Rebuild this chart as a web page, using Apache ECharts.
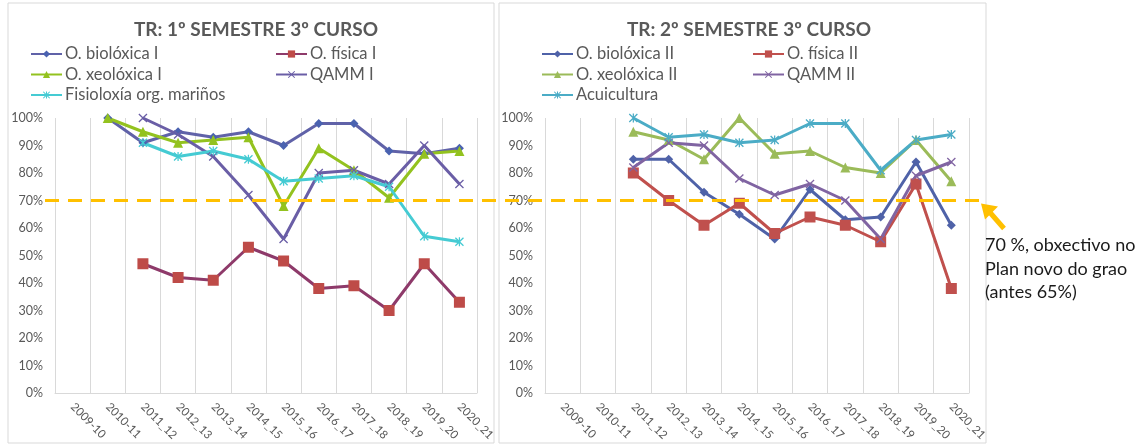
<!DOCTYPE html>
<html>
<head>
<meta charset="utf-8">
<script src="https://cdn.jsdelivr.net/npm/echarts@6/dist/echarts.min.js"></script>
<style>
  html, body { margin: 0; padding: 0; background: #fff; }
  #main { width: 1145px; height: 445px; }
</style>
</head>
<body>
<div id="main"></div>
<script>
// cursos academicos (eixo x, igual nos dous graficos)
var cursos = ['2009-10', '2010-11', '2011_12', '2012_13', '2013_14', '2014_15', '2015_16', '2016_17', '2017_18', '2018_19', '2019_20', '2020_21'];

// 1º semestre (taxa de rendemento, %)
var bioloxica1 = [null, 100, 91, 95, 93, 95, 90, 98, 98, 88, 87, 89];
var fisica1 = [null, null, 47, 42, 41, 53, 48, 38, 39, 30, 47, 33];
var xeoloxica1 = [null, 100, 95, 91, 92, 93, 68, 89, 81, 71, 87, 88];
var qamm1 = [null, null, 100, 94, 86, 72, 56, 80, 81, 76, 90, 76];
var fisioloxia1 = [null, null, 91, 86, 88, 85, 77, 78, 79, 75, 57, 55];

// 2º semestre
var bioloxica2 = [null, null, 85, 85, 73, 65, 56, 74, 63, 64, 84, 61];
var fisica2 = [null, null, 80, 70, 61, 69, 58, 64, 61, 55, 76, 38];
var xeoloxica2 = [null, null, 95, 92, 85, 100, 87, 88, 82, 80, 92, 77];
var qamm2 = [null, null, 82, 91, 90, 78, 72, 76, 70, 56, 79, 84];
var acuicultura = [null, null, 100, 93, 94, 91, 92, 98, 98, 81, 92, 94];

var obxectivo = 70; // obxectivo do plan novo

var titulos = ['TR: 1º SEMESTRE 3º CURSO', 'TR: 2º SEMESTRE 3º CURSO'];
var nota = '70 %, obxectivo no\nPlan novo do grao\n(antes 65%)';

var cinza = '#595959';
var liña = '#D9D9D9';
var laranxa = '#FFC000';
var fonte = 'Lato';

var simboloX = 'path://M0,1L1,0L5,4L9,0L10,1L6,5L10,9L9,10L5,6L1,10L0,9L4,5Z';
var simboloEstrela = 'path://M0,1L1,0L5,4L9,0L10,1L6,5L10,9L9,10L5,6L1,10L0,9L4,5Z M4.3,0L5.7,0L5.7,10L4.3,10Z';

function pct(arr) {
    return arr.map(function (v) { return v == null ? null : v / 100; });
}

function serie(nome, datos, g, cor, corMarca, simbolo, tam) {
    return {
        name: nome, type: 'line', xAxisIndex: g, yAxisIndex: g,
        data: pct(datos),
        symbol: simbolo, symbolSize: tam,
        showAllSymbol: true,
        lineStyle: { color: cor, width: 3 },
        itemStyle: { color: corMarca || cor },
        z: 3
    };
}

function eixoX(g) {
    return {
        type: 'category', gridIndex: g, data: cursos,
        boundaryGap: true,
        axisLine: { lineStyle: { color: liña } },
        axisTick: { show: false },
        splitLine: { show: true, lineStyle: { color: liña } },
        axisLabel: { rotate: -45, color: cinza, fontSize: 11.5, margin: 12, interval: 0, fontFamily: fonte }
    };
}

function eixoY(g) {
    return {
        type: 'value', gridIndex: g, min: 0, max: 1, interval: 0.1,
        axisLine: { show: false }, axisTick: { show: false },
        splitLine: { show: false },
        axisLabel: {
            color: cinza, fontSize: 12.5, margin: 12, fontFamily: fonte,
            formatter: function (v) { return Math.round(v * 100) + '%'; }
        }
    };
}

function lenda(nomes, x, y) {
    return {
        data: nomes, orient: 'vertical', left: x, top: y, padding: 0,
        itemWidth: 31, itemHeight: 9, itemGap: 3.5,
        textStyle: { color: cinza, fontSize: 16.5, fontFamily: fonte, padding: [0, 0, 0, -2] },
        selectedMode: false
    };
}

var myChart = echarts.init(document.getElementById('main'));
myChart.setOption({
    animation: false,
    backgroundColor: '#fff',
    title: [
        { text: titulos[0], left: 251, top: 15, textAlign: 'center',
          textStyle: { color: cinza, fontSize: 19, fontWeight: 'bold', fontFamily: fonte } },
        { text: titulos[1], left: 744, top: 15, textAlign: 'center',
          textStyle: { color: cinza, fontSize: 19, fontWeight: 'bold', fontFamily: fonte } }
    ],
    legend: [
        lenda(['O. biolóxica I', 'O. xeolóxica I', 'Fisioloxía org. mariños'], 30, 45.5),
        lenda(['O. física I', 'QAMM I'], 275, 45.5),
        lenda(['O. biolóxica II', 'O. xeolóxica II', 'Acuicultura'], 541, 45.5),
        lenda(['O. física II', 'QAMM II'], 752, 45.5)
    ],
    grid: [
        { left: 55, right: 668, top: 118, bottom: 52 },
        { left: 545, right: 176, top: 118, bottom: 52 }
    ],
    xAxis: [eixoX(0), eixoX(1)],
    yAxis: [eixoY(0), eixoY(1)],
    series: [
        serie('O. biolóxica I', bioloxica1, 0, '#6062A8', '#4A62B0', 'diamond', 9),
        serie('O. física I', fisica1, 0, '#8E3A6A', '#BE4B48', 'rect', 11),
        serie('O. xeolóxica I', xeoloxica1, 0, '#93C21F', null, 'triangle', 10),
        serie('QAMM I', qamm1, 0, '#6A5EA6', null, simboloX, 9),
        serie('Fisioloxía org. mariños', fisioloxia1, 0, '#45CBD3', null, simboloEstrela, 9),
        serie('O. biolóxica II', bioloxica2, 1, '#4F62A8', null, 'diamond', 9),
        serie('O. física II', fisica2, 1, '#C0504D', null, 'rect', 11),
        serie('O. xeolóxica II', xeoloxica2, 1, '#9BBB59', null, 'triangle', 10),
        serie('QAMM II', qamm2, 1, '#8064A2', null, simboloX, 9),
        serie('Acuicultura', acuicultura, 1, '#4BACC6', null, simboloEstrela, 9)
    ]
});

// liña do obxectivo, frecha e nota (posicion desde o eixo)
var yObx = myChart.convertToPixel({ gridIndex: 0 }, [0, obxectivo / 100])[1];
myChart.setOption({
    graphic: [
        { type: 'rect', shape: { x: 8, y: 3, width: 486, height: 440 }, style: { fill: null, stroke: liña, lineWidth: 1 }, silent: true, z: 0 },
        { type: 'rect', shape: { x: 499, y: 3, width: 487, height: 440 }, style: { fill: null, stroke: liña, lineWidth: 1 }, silent: true, z: 0 },
        { type: 'line', shape: { x1: 45, y1: yObx, x2: 981, y2: yObx },
          style: { stroke: laranxa, lineWidth: 3, lineDash: [14, 9] }, z: 10 },
        { type: 'line', shape: { x1: 1004, y1: yObx + 28, x2: 990, y2: yObx + 12 },
          style: { stroke: laranxa, lineWidth: 5 }, z: 10 },
        { type: 'polygon', shape: { points: [[981, yObx + 3], [998, yObx + 6], [985, yObx + 19]] },
          style: { fill: laranxa }, z: 10 },
        { type: 'text', left: 985, top: yObx + 33,
          style: { text: nota, fill: '#1a1a1a', fontSize: 18, lineHeight: 23.5, fontFamily: fonte }, z: 10 }
    ]
});
</script>
</body>
</html>
